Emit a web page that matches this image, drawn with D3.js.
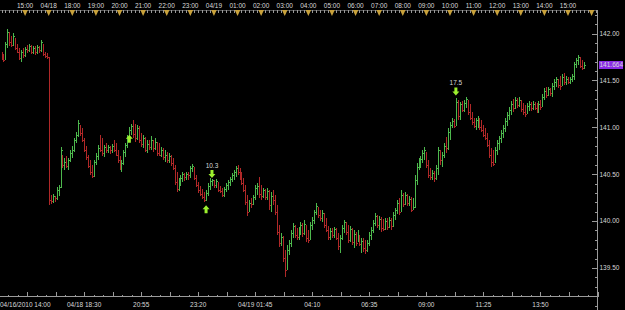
<!DOCTYPE html>
<html>
<head>
<meta charset="utf-8">
<script src="https://cdn.jsdelivr.net/npm/d3@7"></script>
<style>
  html, body { margin: 0; padding: 0; background: #000; }
  svg { display: block; }
  text { font-family: 'Liberation Sans', Arial, sans-serif; font-size: 6.5px; fill: #d8d8d8; }
</style>
</head>
<body>
<div id="chart"></div>
<script>
const width = 625;
const height = 310;

// 5 minute bars: Friday 04/16 14:00-15:55, then Sunday 04/18 17:00 onwards
const highs = [
  141.80,141.78,141.91,142.05,142.02,141.97,142.01,141.95,141.89,141.85,
  141.82,141.85,141.86,141.88,141.89,141.88,141.87,141.87,141.88,141.87,
  141.93,141.89,141.80,141.79,141.75,140.28,140.29,140.27,140.36,140.38,
  140.79,140.70,140.67,140.69,140.67,140.76,140.80,140.89,140.95,141.08,
  141.02,140.99,140.89,140.80,140.70,140.65,140.60,140.65,140.73,140.81,
  140.92,140.89,140.81,140.83,140.81,140.80,140.82,140.86,140.83,140.76,
  140.69,140.65,140.76,140.83,140.92,141.00,141.04,141.08,141.04,141.02,
  141.01,140.94,140.92,140.90,140.86,140.86,140.91,140.86,140.89,140.84,
  140.83,140.79,140.78,140.76,140.74,140.73,140.70,140.67,140.60,140.52,
  140.46,140.49,140.52,140.51,140.52,140.52,140.59,140.61,140.58,140.49,
  140.42,140.37,140.34,140.31,140.33,140.41,140.46,140.45,140.44,140.45,
  140.42,140.37,140.35,140.36,140.41,140.44,140.47,140.51,140.55,140.59,
  140.60,140.57,140.52,140.46,140.38,140.28,140.22,140.25,140.28,140.38,
  140.41,140.47,140.38,140.35,140.34,140.35,140.33,140.31,140.33,140.28,
  140.17,139.96,139.87,139.84,139.69,139.74,139.80,139.91,139.98,139.96,
  139.93,139.94,139.99,139.98,140.01,139.96,139.91,139.99,140.04,140.12,
  140.19,140.15,140.12,140.12,140.09,140.03,139.95,139.93,139.93,139.94,
  139.93,139.87,139.85,139.96,140.01,139.99,139.96,139.95,139.93,139.91,
  139.88,139.91,139.85,139.82,139.82,139.80,139.80,139.88,139.94,140.01,
  140.09,140.06,140.05,140.04,140.02,140.03,140.03,140.04,140.03,140.10,
  140.14,140.22,140.25,140.33,140.30,140.31,140.29,140.27,140.26,140.25,
  140.49,140.62,140.67,140.69,140.76,140.79,140.74,140.65,140.57,140.55,
  140.53,140.60,140.79,140.76,140.74,140.83,140.90,140.99,141.06,141.10,
  141.09,141.31,141.29,141.27,141.28,141.29,141.32,141.29,141.25,141.16,
  141.10,141.10,141.12,141.10,141.08,141.02,140.99,140.94,140.86,140.78,
  140.76,140.79,140.86,140.91,140.97,141.02,141.10,141.16,141.22,141.28,
  141.30,141.32,141.31,141.32,141.29,141.26,141.24,141.26,141.28,141.27,
  141.28,141.27,141.26,141.28,141.29,141.35,141.42,141.43,141.43,141.42,
  141.47,141.51,141.54,141.52,141.55,141.57,141.58,141.55,141.54,141.54,
  141.57,141.70,141.74,141.77,141.75,141.72,141.70
];

const lows = [
  141.72,141.70,141.72,141.85,141.87,141.86,141.87,141.82,141.79,141.72,
  141.70,141.74,141.75,141.79,141.80,141.78,141.78,141.77,141.78,141.79,
  141.80,141.76,141.74,141.73,140.17,140.18,140.19,140.20,140.22,140.27,
  140.35,140.57,140.55,140.57,140.55,140.63,140.67,140.74,140.83,140.90,
  140.91,140.84,140.74,140.65,140.57,140.49,140.46,140.47,140.60,140.65,
  140.74,140.69,140.68,140.73,140.73,140.72,140.73,140.74,140.69,140.62,
  140.55,140.52,140.60,140.68,140.78,140.86,140.92,140.89,140.84,140.86,
  140.83,140.79,140.78,140.74,140.73,140.76,140.76,140.74,140.76,140.69,
  140.69,140.68,140.65,140.63,140.62,140.62,140.59,140.55,140.38,140.31,
  140.32,140.37,140.42,140.43,140.44,140.44,140.46,140.52,140.44,140.36,
  140.30,140.27,140.24,140.20,140.21,140.27,140.33,140.37,140.35,140.35,
  140.31,140.30,140.26,140.26,140.31,140.33,140.37,140.42,140.44,140.47,
  140.49,140.44,140.38,140.31,140.17,140.05,140.10,140.14,140.17,140.22,
  140.28,140.25,140.22,140.25,140.22,140.22,140.12,140.10,140.17,140.06,
  139.85,139.72,139.73,139.56,139.40,139.48,139.64,139.72,139.82,139.82,
  139.80,139.80,139.85,139.83,139.85,139.78,139.77,139.80,139.91,139.97,
  140.06,140.03,140.00,139.99,139.93,139.88,139.80,139.80,139.82,139.82,
  139.80,139.69,139.66,139.80,139.87,139.85,139.77,139.78,139.75,139.71,
  139.73,139.78,139.73,139.66,139.67,139.65,139.67,139.73,139.80,139.87,
  139.95,139.93,139.91,139.88,139.89,139.91,139.91,139.93,139.91,139.94,
  140.01,140.08,140.06,140.10,140.15,140.17,140.16,140.16,140.10,140.12,
  140.14,140.38,140.55,140.57,140.62,140.65,140.57,140.46,140.44,140.44,
  140.42,140.44,140.49,140.60,140.58,140.67,140.73,140.76,140.86,140.99,
  140.99,141.01,141.08,141.08,141.16,141.16,141.21,141.13,141.08,141.02,
  140.99,140.97,140.99,140.97,140.95,140.90,140.86,140.79,140.67,140.58,
  140.59,140.62,140.70,140.76,140.83,140.89,140.95,141.01,141.08,141.13,
  141.16,141.20,141.21,141.22,141.16,141.13,141.11,141.14,141.17,141.17,
  141.18,141.18,141.15,141.15,141.18,141.22,141.29,141.31,141.33,141.33,
  141.32,141.40,141.43,141.42,141.40,141.44,141.45,141.45,141.46,141.46,
  141.48,141.50,141.63,141.66,141.63,141.61,141.62
];

const closes = [
  141.74,141.72,141.89,142.02,141.91,141.88,141.97,141.85,141.80,141.74,
  141.80,141.77,141.83,141.82,141.87,141.80,141.85,141.80,141.86,141.82,
  141.91,141.78,141.76,141.75,140.22,140.21,140.27,140.25,140.33,140.36,
  140.76,140.60,140.63,140.59,140.65,140.73,140.76,140.86,140.92,141.05,
  140.94,140.86,140.76,140.68,140.59,140.52,140.48,140.63,140.69,140.78,
  140.76,140.73,140.79,140.76,140.79,140.76,140.80,140.76,140.71,140.65,
  140.57,140.62,140.74,140.81,140.90,140.97,141.01,140.93,140.89,140.99,
  140.86,140.82,140.89,140.76,140.82,140.79,140.86,140.78,140.84,140.73,
  140.71,140.76,140.68,140.70,140.65,140.69,140.62,140.57,140.42,140.34,
  140.43,140.46,140.50,140.47,140.50,140.49,140.57,140.59,140.46,140.38,
  140.33,140.29,140.26,140.22,140.30,140.37,140.43,140.44,140.38,140.43,
  140.33,140.32,140.28,140.34,140.38,140.42,140.45,140.49,140.52,140.57,
  140.52,140.46,140.41,140.33,140.20,140.10,140.19,140.18,140.26,140.35,
  140.37,140.29,140.27,140.33,140.26,140.32,140.17,140.27,140.22,140.10,
  139.88,139.77,139.83,139.61,139.48,139.69,139.77,139.87,139.95,139.85,
  139.83,139.91,139.96,139.87,139.97,139.82,139.80,139.96,140.01,140.10,
  140.16,140.06,140.03,140.09,139.96,139.91,139.83,139.89,139.85,139.92,
  139.82,139.73,139.82,139.93,139.99,139.88,139.80,139.92,139.78,139.86,
  139.77,139.80,139.76,139.79,139.71,139.69,139.77,139.85,139.91,139.98,
  140.05,139.96,140.02,139.93,139.92,140.00,139.94,140.01,139.95,140.06,
  140.12,140.19,140.10,140.28,140.18,140.28,140.19,140.24,140.12,140.15,
  140.44,140.58,140.63,140.66,140.73,140.76,140.60,140.49,140.47,140.51,
  140.46,140.57,140.76,140.65,140.70,140.80,140.78,140.95,141.02,141.07,
  141.01,141.27,141.12,141.25,141.18,141.26,141.30,141.16,141.10,141.06,
  141.01,141.08,141.10,141.00,140.97,140.92,140.89,140.81,140.70,140.63,
  140.61,140.76,140.83,140.89,140.94,140.99,141.07,141.13,141.18,141.25,
  141.21,141.29,141.24,141.29,141.20,141.16,141.14,141.23,141.25,141.21,
  141.25,141.21,141.17,141.25,141.22,141.32,141.39,141.34,141.41,141.37,
  141.44,141.48,141.51,141.45,141.44,141.54,141.48,141.51,141.48,141.51,
  141.55,141.67,141.72,141.75,141.65,141.63,141.664
];
const firstOpen = 141.78;
const lastPrice = 141.664;

// top ruler: one label per hourly marker
const topTickLabels = ['15:00','04/18','18:00','19:00','20:00','21:00','22:00','23:00','04/19',
  '01:00','02:00','03:00','04:00','05:00','06:00','07:00','08:00','09:00','10:00','11:00',
  '12:00','13:00','14:00','15:00',''];

// bottom axis
const bottomTickLabels = ['04/16/2010 14:00','04/18 18:30','20:55','23:20','04/19 01:45',
  '04:10','06:35','09:00','11:25','13:50'];
const bottomTickTimes = ['2010-04-16 14:00','2010-04-18 18:30','2010-04-18 20:55','2010-04-18 23:20',
  '2010-04-19 01:45','2010-04-19 04:10','2010-04-19 06:35','2010-04-19 09:00','2010-04-19 11:25',
  '2010-04-19 13:50'];

// signals
const markerBars = [65, 104, 107, 231];
const markerPrices = [140.92, 140.17, 140.46, 141.34];
const markerDirs = ['up', 'up', 'down', 'down'];
const markerLabels = ['', '', '10.3', '17.5'];

const green = '#4db84d';
const red = '#b02828';

const fridayStart = new Date(2010, 3, 16, 14, 0);
const sundayStart = new Date(2010, 3, 18, 17, 0);
const fridayBars = 24;
const barMs = 5 * 60 * 1000;
const lastSlot = 303;

const barTime = (i) => i < fridayBars
  ? new Date(+fridayStart + i * barMs)
  : new Date(+sundayStart + (i - fridayBars) * barMs);
const barIndex = (t) => t < sundayStart
  ? (t - fridayStart) / barMs
  : fridayBars + (t - sundayStart) / barMs;

const parseTime = d3.timeParse('%Y-%m-%d %H:%M');

const x = d3.scaleLinear().domain([0, lastSlot]).range([1.5, 597.5]);
const y = d3.scaleLinear().domain([139.5, 142]).range([268, 33.5]);
const axisX = 597.5;

const bars = closes.map((c, i) => ({
  i: i,
  open: i === 0 ? firstOpen : closes[i - 1],
  high: highs[i],
  low: lows[i],
  close: c
}));

const svg = d3.select('#chart')
  .append('svg')
  .attr('width', width)
  .attr('height', height)
  .style('background', '#000')
  .attr('shape-rendering', 'crispEdges');

// bars
const bar = svg.append('g')
  .selectAll('g')
  .data(bars)
  .enter()
  .append('g')
  .attr('fill', (d) => d.close >= d.open ? green : red);

bar.append('rect')
  .attr('x', (d) => Math.round(x(d.i)))
  .attr('y', (d) => Math.round(y(d.high)))
  .attr('width', 1)
  .attr('height', (d) => Math.max(1, Math.round(y(d.low)) - Math.round(y(d.high))));

bar.append('rect')
  .attr('x', (d) => Math.round(x(d.i)) + 1)
  .attr('y', (d) => Math.round(y(d.close)))
  .attr('width', 1)
  .attr('height', 1);

// top ruler
const topAxis = svg.append('g');
topAxis.append('line')
  .attr('x1', 0).attr('x2', axisX)
  .attr('y1', 10.5).attr('y2', 10.5)
  .attr('stroke', '#555');

topAxis.selectAll('.minor')
  .data(d3.range(0, lastSlot, 2))
  .enter()
  .append('line')
  .attr('x1', (d) => Math.round(x(d)) + 0.5)
  .attr('x2', (d) => Math.round(x(d)) + 0.5)
  .attr('y1', 10).attr('y2', 13)
  .attr('stroke', '#9a9a9a');

const hourSlots = d3.range(1, lastSlot).filter((i) => barTime(i).getMinutes() === 0);

topAxis.selectAll('.hour')
  .data(hourSlots)
  .enter()
  .append('path')
  .attr('shape-rendering', 'auto')
  .attr('d', (d) => {
    const cx = x(d);
    return 'M' + (cx - 2.8) + ',10 L' + (cx + 2.8) + ',10 L' + cx + ',16 Z';
  })
  .attr('fill', '#c9a23c');

topAxis.selectAll('.hourLabel')
  .data(hourSlots)
  .enter()
  .append('text')
  .attr('x', (d) => x(d))
  .attr('y', 7.5)
  .attr('text-anchor', 'middle')
  .attr('fill', '#e0e0e0')
  .text((d, i) => topTickLabels[i] || '');

topAxis.append('line')
  .attr('x1', axisX).attr('x2', axisX)
  .attr('y1', 10).attr('y2', 18)
  .attr('stroke', '#9a9a9a');

// right price axis
const priceAxis = svg.append('g');
priceAxis.append('line')
  .attr('x1', axisX).attr('x2', axisX)
  .attr('y1', 17).attr('y2', height)
  .attr('stroke', '#9a9a9a');

priceAxis.selectAll('.pminor')
  .data(d3.range(1391, 1423).map((v) => v / 10))
  .enter()
  .append('line')
  .attr('x1', (d) => Math.round(d * 10) % 5 === 0 ? axisX - 6 : axisX - 3)
  .attr('x2', axisX)
  .attr('y1', (d) => Math.round(y(d)) + 0.5)
  .attr('y2', (d) => Math.round(y(d)) + 0.5)
  .attr('stroke', '#9a9a9a');

priceAxis.selectAll('.plabel')
  .data(d3.range(139.5, 142.01, 0.5))
  .enter()
  .append('text')
  .attr('x', axisX + 2)
  .attr('y', (d) => y(d) + 2.3)
  .text((d) => d3.format('.2f')(d));

priceAxis.append('rect')
  .attr('x', axisX + 1)
  .attr('y', Math.round(y(lastPrice)) - 4)
  .attr('width', 24)
  .attr('height', 8)
  .attr('fill', '#8a2be6');

priceAxis.append('text')
  .attr('x', axisX + 2)
  .attr('y', y(lastPrice) + 2.3)
  .attr('fill', '#f4f0ff')
  .text(lastPrice.toFixed(3));

// bottom time axis
const timeAxis = svg.append('g');
timeAxis.append('line')
  .attr('x1', 0).attr('x2', axisX)
  .attr('y1', 296.5).attr('y2', 296.5)
  .attr('stroke', '#9a9a9a');

const labelSlots = bottomTickTimes.map((t) => barIndex(parseTime(t)));
const step = (labelSlots[2] - labelSlots[1]) / 2;

timeAxis.selectAll('.btick')
  .data(d3.range(labelSlots[1] - 3 * step, lastSlot, step / 3))
  .enter()
  .append('line')
  .attr('x1', (d) => Math.round(x(d)) + 0.5)
  .attr('x2', (d) => Math.round(x(d)) + 0.5)
  .attr('y1', (d, i) => i % 3 === 0 ? 292 : 294.5)
  .attr('y2', 296.5)
  .attr('stroke', '#9a9a9a');

timeAxis.selectAll('.blabel')
  .data(labelSlots)
  .enter()
  .append('text')
  .attr('x', (d, i) => i === 0 ? 0 : x(d))
  .attr('y', 307)
  .attr('text-anchor', (d, i) => i === 0 ? 'start' : 'middle')
  .text((d, i) => bottomTickLabels[i]);

// signal arrows
const markers = svg.append('g').attr('shape-rendering', 'auto');
markerBars.forEach((b, k) => {
  const cx = x(b);
  const ty = y(markerPrices[k]);
  const s = markerDirs[k] === 'down' ? -1 : 1;
  const path = d3.path();
  path.moveTo(cx, ty);
  path.lineTo(cx + 3.5, ty + 4 * s);
  path.lineTo(cx + 1.5, ty + 4 * s);
  path.lineTo(cx + 1.5, ty + 8 * s);
  path.lineTo(cx - 1.5, ty + 8 * s);
  path.lineTo(cx - 1.5, ty + 4 * s);
  path.lineTo(cx - 3.5, ty + 4 * s);
  path.closePath();
  markers.append('path')
    .attr('d', path.toString())
    .attr('fill', '#9cf02e');
  if (markerLabels[k]) {
    markers.append('text')
      .attr('x', cx)
      .attr('y', ty - 10)
      .attr('text-anchor', 'middle')
      .attr('fill', '#efe6a0')
      .text(markerLabels[k]);
  }
});
</script>
</body>
</html>
